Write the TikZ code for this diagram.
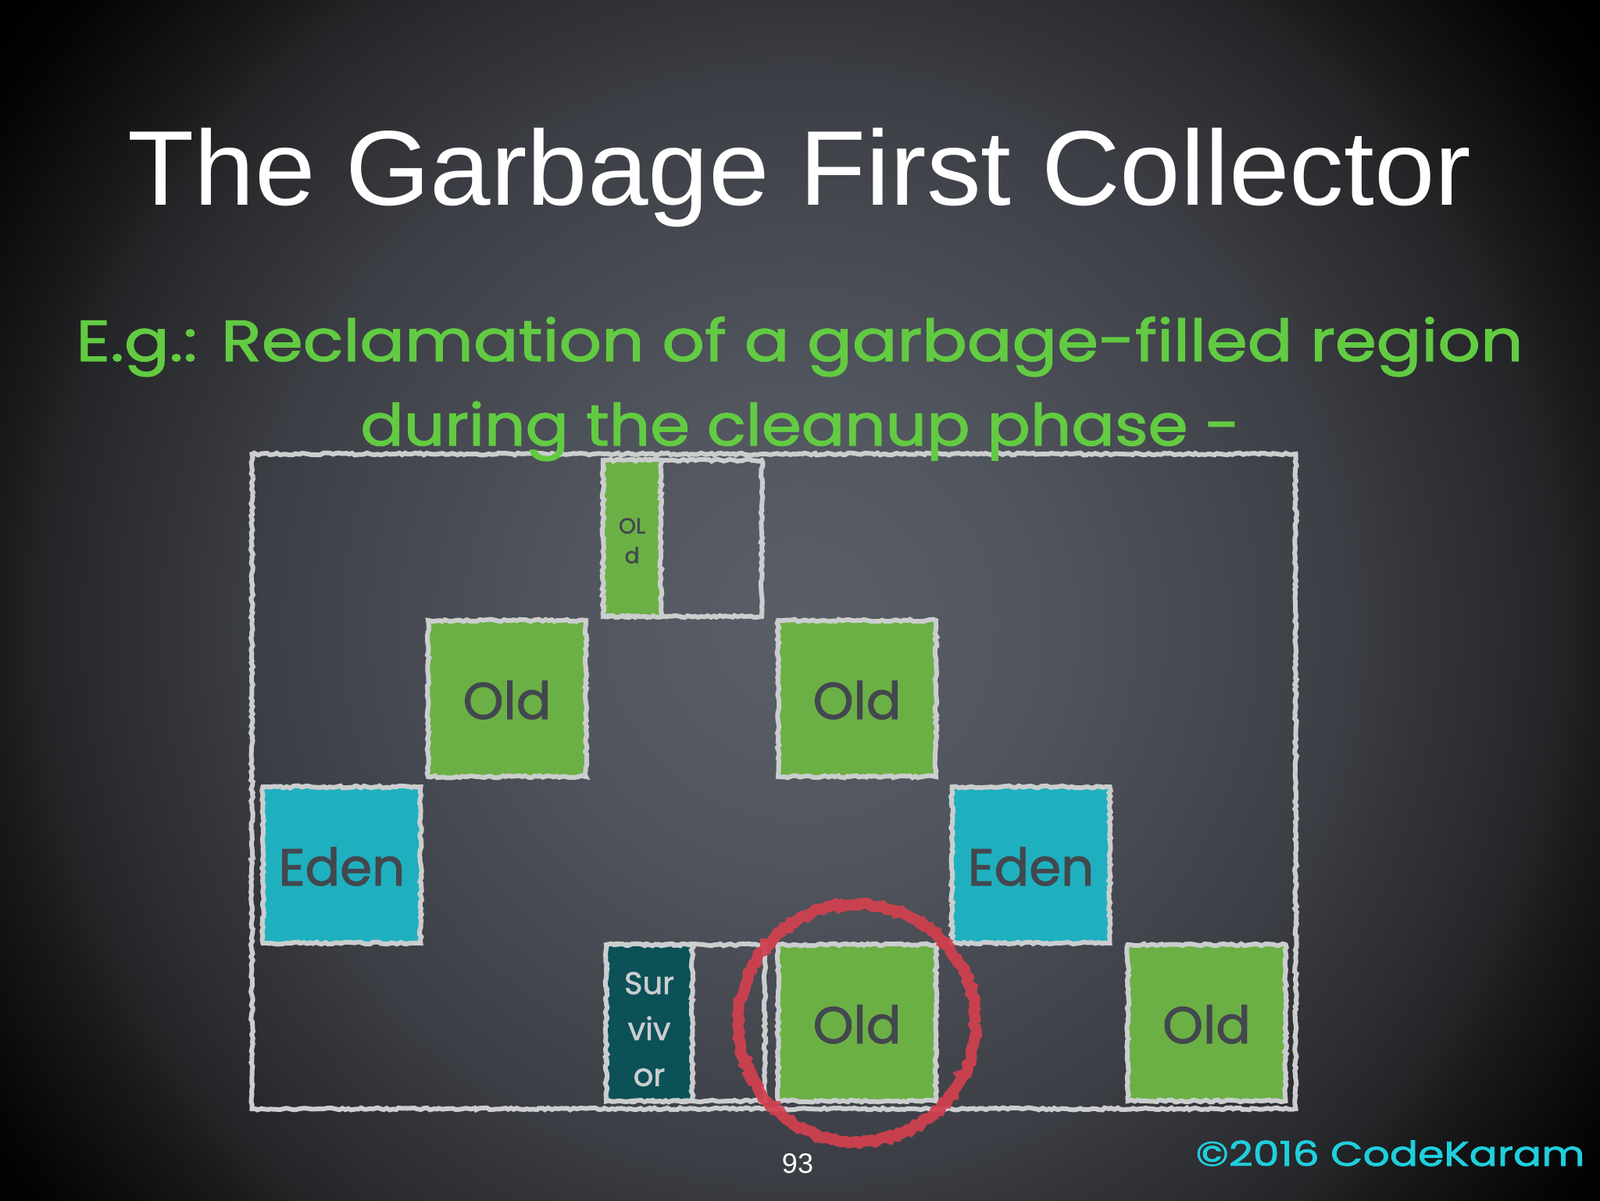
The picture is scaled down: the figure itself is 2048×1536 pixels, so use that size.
\documentclass[tikz,border=0pt]{standalone}
\usepackage{fontspec}
\usepackage{graphicx}
\usetikzlibrary{decorations.pathmorphing}
\setmainfont{Liberation Sans}
\newfontfamily\titlefont{Liberation Sans}
\newfontfamily\chalkfont[FakeBold=1.6]{Poppins}
\definecolor{chalkline}{HTML}{CBCDCE}
\definecolor{oldgreen}{HTML}{6BB045}
\definecolor{edenteal}{HTML}{1FB0BF}
\definecolor{survteal}{HTML}{0C5058}
\definecolor{labeldark}{HTML}{43474E}
\definecolor{headgreen}{HTML}{62CB42}
\definecolor{copycyan}{HTML}{1FCFDD}
\definecolor{ringred}{HTML}{D2404E}
\definecolor{bgA}{HTML}{5A5E67}
\definecolor{bgB}{HTML}{51555D}
\definecolor{bgC}{HTML}{3C3E45}
\definecolor{bgD}{HTML}{323438}
\definecolor{bgE}{HTML}{2D2E32}
\definecolor{bgF}{HTML}{232426}
\definecolor{bgG}{HTML}{1A1B1C}
\definecolor{bgH}{HTML}{040404}
\definecolor{bgI}{HTML}{000000}
% the square below has half side 1800: 1bp of the shading is 72 units
\pgfdeclareradialshading{slidebg}{\pgfpoint{0bp}{0bp}}{%
  color(0bp)=(bgA);
  color(4.17bp)=(bgB);
  color(9.72bp)=(bgC);
  color(11.1bp)=(bgD);
  color(12.14bp)=(bgE);
  color(13.54bp)=(bgF);
  color(14.22bp)=(bgG);
  color(16.8bp)=(bgH);
  color(17.8bp)=(bgI);
  color(50bp)=(bgI)}
\tikzset{
  rough/.style={decorate,decoration={random steps,segment length=2pt,amplitude=0.7pt}},
  regionbox/.style={draw=chalkline,line width=3pt,rough,inner sep=0pt,minimum width=101pt,minimum height=100pt,text=labeldark,text height=26pt,text depth=0pt,font=\chalkfont\fontsize{33}{36}\selectfont},
  slimbox/.style={draw=chalkline,line width=3pt,rough,inner sep=0pt,minimum height=100pt},
  plainline/.style={draw=chalkline,line width=3pt,rough,inner sep=0pt},
  headline/.style={text=headgreen,inner sep=0pt,anchor=base west,font=\chalkfont\fontsize{37}{40}\selectfont}
}
\begin{document}
\begin{tikzpicture}[x=0.5pt,y=-0.5pt]
\useasboundingbox (0,0) rectangle (2048,1536);
\begin{scope}
\clip (0,0) rectangle (2048,1536);
\shade[shading=slidebg] (-776,-1000) rectangle (2824,2600);
\end{scope}
% outer frame
\node[plainline,minimum width=668pt,minimum height=419pt] (frame) at (990.5,1000) {};
% half regions
\node[plainline,minimum width=101pt,minimum height=100pt] (oldhalf) at (874,689) {};
\node[slimbox,fill=oldgreen,minimum width=37pt] (oldslim) at (809,689) {};
\node[text=labeldark,inner sep=0pt,align=center,font=\chalkfont\fontsize{14}{19}\selectfont] (oldslimtext) at (809,692) {OL\\d};
\node[plainline,minimum width=101pt,minimum height=100pt] (survhalf) at (878,1309) {};
\node[slimbox,fill=survteal,minimum width=55pt] (surv) at (831,1309) {};
\node[text=chalkline,inner sep=0pt,align=center,font=\chalkfont\fontsize{20}{29.4}\selectfont] (survtext) at (831,1317) {Sur\\viv\\or};
% full regions
\node[regionbox,fill=oldgreen] (oldA) at (649,894) {Old};
\node[regionbox,fill=oldgreen] (oldB) at (1097,894) {Old};
\node[regionbox,fill=edenteal] (edenA) at (437.5,1107) {Eden};
\node[regionbox,fill=edenteal] (edenB) at (1319.5,1107) {Eden};
\node[regionbox,fill=oldgreen] (oldC) at (1097,1309) {Old};
\node[regionbox,fill=oldgreen] (oldD) at (1544.5,1309) {Old};
% ring
\node[circle,draw=ringred,draw opacity=.93,line width=7pt,minimum size=152pt,inner sep=0pt,decorate,decoration={random steps,segment length=2.5pt,amplitude=1.2pt}] (ring) at (1097,1309) {};
% texts
\node[text=white,inner sep=0pt,anchor=base west,font=\titlefont\fontsize{68}{72}\selectfont] (title) at (163,262) {\resizebox{860pt}{\height}{The Garbage First Collector}};
\node[headline] (headA) at (97,462) {\resizebox{926pt}{\height}{E.g.: Reclamation of a garbage-filled region}};
\node[headline] (headB) at (461,570) {\resizebox{563pt}{\height}{during the cleanup phase -}};
\node[text=white,inner sep=0pt,anchor=base,font=\titlefont\fontsize{18}{22}\selectfont] (pageno) at (1021,1501) {93};
\node[text=copycyan,inner sep=0pt,anchor=base west,font=\chalkfont\fontsize{22}{26}\selectfont] (copy) at (1530,1492) {\resizebox{249pt}{\height}{©2016 CodeKaram}};
\end{tikzpicture}
\end{document}
